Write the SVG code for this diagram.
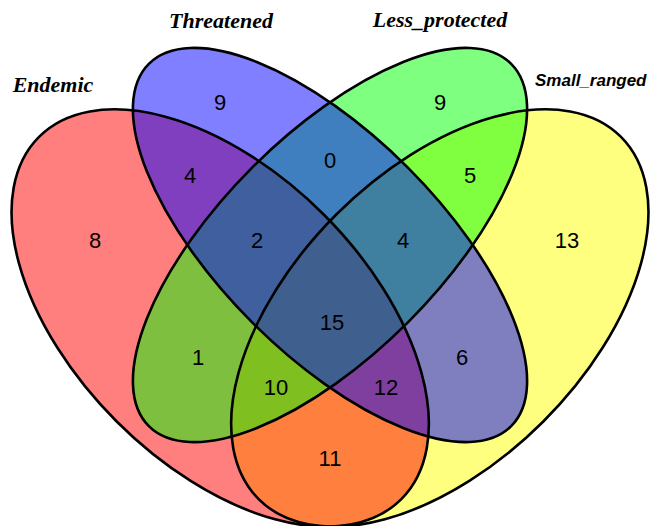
<svg xmlns="http://www.w3.org/2000/svg" width="652" height="526" viewBox="0 0 652 526">
<style>
.fill{stroke:none;fill-opacity:0.5}
.edge{fill:none;stroke:#000;stroke-width:2.6}
.num{font-family:"Liberation Sans",Arial,sans-serif;font-size:22px;text-anchor:middle;fill:#000}
.cat{font-family:"Liberation Serif","Times New Roman",serif;font-size:22px;font-weight:bold;font-style:italic;text-anchor:middle;fill:#000}
.cat2{font-family:"Liberation Sans",Arial,sans-serif;font-size:17px;font-weight:bold;font-style:italic;fill:#000}
</style>
<rect width="652" height="526" fill="#fff"/>
<g id="fills">
<ellipse class="fill" fill="#FFFF00" cx="439.8" cy="318" rx="256.2" ry="146.4" transform="rotate(-45 439.8 318)"/>
<ellipse class="fill" fill="#FF0000" cx="220.2" cy="318" rx="256.2" ry="146.4" transform="rotate(45 220.2 318)"/>
<ellipse class="fill" fill="#00FF00" cx="330" cy="245" rx="256.2" ry="109.8" transform="rotate(-45 330 245)"/>
<ellipse class="fill" fill="#0000FF" cx="330" cy="245" rx="256.2" ry="109.8" transform="rotate(45 330 245)"/>
</g>
<g id="Endemic">
<ellipse class="edge" cx="220.2" cy="318" rx="256.2" ry="146.4" transform="rotate(45 220.2 318)"/>
<text class="cat" x="53" y="92">Endemic</text>
</g>
<g id="Threatened">
<ellipse class="edge" cx="330" cy="245" rx="256.2" ry="109.8" transform="rotate(45 330 245)"/>
<text class="cat" x="221" y="28">Threatened</text>
</g>
<g id="Less_protected">
<ellipse class="edge" cx="330" cy="245" rx="256.2" ry="109.8" transform="rotate(-45 330 245)"/>
<text class="cat" x="440" y="27">Less_protected</text>
</g>
<g id="Small_ranged">
<ellipse class="edge" cx="439.8" cy="318" rx="256.2" ry="146.4" transform="rotate(-45 439.8 318)"/>
<text class="cat2" x="535" y="86">Small_ranged</text>
</g>
<g id="counts">
<text class="num" x="220" y="110">9</text>
<text class="num" x="440" y="110">9</text>
<text class="num" x="330" y="168">0</text>
<text class="num" x="190" y="183">4</text>
<text class="num" x="470" y="183">5</text>
<text class="num" x="95" y="248">8</text>
<text class="num" x="257" y="248">2</text>
<text class="num" x="403" y="248">4</text>
<text class="num" x="567" y="248">13</text>
<text class="num" x="332" y="330">15</text>
<text class="num" x="198" y="365">1</text>
<text class="num" x="462" y="365">6</text>
<text class="num" x="276" y="395">10</text>
<text class="num" x="386" y="395">12</text>
<text class="num" x="330" y="466">11</text>
</g>
<g id="connectors"/>
</svg>
